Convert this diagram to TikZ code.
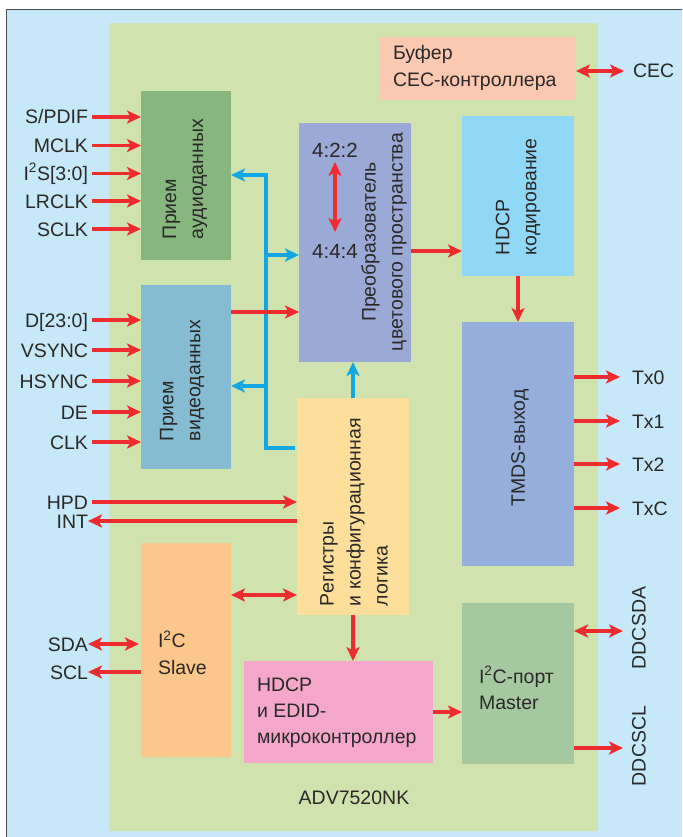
\documentclass[tikz,border=0pt]{standalone}
\usepackage{fontspec}
\setmainfont{Liberation Sans}
\usetikzlibrary{arrows.meta}
\definecolor{bgblue}{HTML}{C6E8F8}
\definecolor{chipgreen}{HTML}{D0E2AD}
\definecolor{caudio}{HTML}{87B67F}
\definecolor{cvideo}{HTML}{85BCD2}
\definecolor{cconv}{HTML}{9BA9D6}
\definecolor{chdcp}{HTML}{90D8F6}
\definecolor{ctmds}{HTML}{96AEDC}
\definecolor{cregs}{HTML}{FEDE9B}
\definecolor{cslave}{HTML}{FCC78A}
\definecolor{cedid}{HTML}{F4A7CA}
\definecolor{cmaster}{HTML}{A6C8A0}
\definecolor{ccec}{HTML}{FBC9B1}
\definecolor{ared}{HTML}{EE2B2E}
\definecolor{ablue}{HTML}{12A6E3}
\definecolor{ink}{HTML}{2A2928}
\definecolor{framegray}{HTML}{505050}
\begin{document}
\begin{tikzpicture}[x=1pt,y=-1pt,
  blk/.style={draw=none,inner sep=0pt,outer sep=0pt},
  txt/.style={inner sep=0pt,outer sep=0pt,text=ink,font=\fontsize{19.5}{27}\selectfont},
  txtb/.style={txt,font=\fontsize{19.5}{26}\selectfont},
  lab/.style={txt,text height=14pt,text depth=0pt},
  rarr/.style={draw=ared,line width=3.3pt,-{Stealth[length=14pt,width=13pt,inset=3.5pt]}},
  rdbl/.style={draw=ared,line width=3.3pt,{Stealth[length=14pt,width=13pt,inset=3.5pt]}-{Stealth[length=14pt,width=13pt,inset=3.5pt]}},
  barr/.style={draw=ablue,line width=3.2pt,-{Stealth[length=14pt,width=13pt,inset=3.5pt]}}]
\useasboundingbox (0,0) rectangle (682,837);
\fill[white] (0,0) rectangle (682,837);
\fill[bgblue] (6.5,9.5) rectangle (682,837);
\draw[framegray,line width=1.3pt] (6.5,837) -- (6.5,9.5) -- (682,9.5);
% chip area
\node[blk,fill=chipgreen,minimum width=489pt,minimum height=808pt] (chip) at (353.5,427) {};
% blocks
\node[blk,fill=ccec,minimum width=196pt,minimum height=63pt] (cec) at (478,68.5) {};
\node[blk,fill=caudio,minimum width=90pt,minimum height=169pt] (audio) at (186,175.5) {};
\node[blk,fill=cvideo,minimum width=90pt,minimum height=184pt] (video) at (186,377) {};
\node[blk,fill=cconv,minimum width=112pt,minimum height=239pt] (conv) at (355,242.5) {};
\node[blk,fill=chdcp,minimum width=112pt,minimum height=160pt] (hdcpenc) at (518,196) {};
\node[blk,fill=ctmds,minimum width=112pt,minimum height=244pt] (tmds) at (518,444) {};
\node[blk,fill=cregs,minimum width=112pt,minimum height=217pt] (regs) at (353,506.5) {};
\node[blk,fill=cslave,minimum width=90pt,minimum height=214pt] (slave) at (186,650) {};
\node[blk,fill=cedid,minimum width=189pt,minimum height=102pt] (edid) at (338.5,712) {};
\node[blk,fill=cmaster,minimum width=112pt,minimum height=161pt] (master) at (518,683.5) {};
% block texts
\node[txt,anchor=west,align=left] (tcec) at (393,67.5) {Буфер\\СЕС-контроллера};
\node[txt,rotate=90,anchor=west,align=left] (taudio) at (185,239) {Прием\\аудиоданных};
\node[txt,rotate=90,anchor=west,align=left] (tvideo) at (182,441) {Прием\\видеоданных};
\node[txt,rotate=90,align=center] (tconv) at (384,242) {Преобразователь\\цветового пространства};
\node[txt,rotate=90,anchor=west,align=left] (thdcp) at (518,255) {HDCP\\кодирование};
\node[txt,rotate=90] (ttmds) at (520,448) {TMDS-выход};
\node[txt,rotate=90,anchor=west,align=left] (tregs) at (354,606) {Регистры\\и конфигурационная\\логика};
\node[txt,anchor=west,align=left] (tslave) at (158,653) {I\textsuperscript{2}C\\Slave};
\node[txtb,anchor=west,align=left] (tedid) at (257,713) {HDCP\\и EDID-\\микроконтроллер};
\node[txtb,anchor=west,align=left] (tmaster) at (479,688) {I\textsuperscript{2}C-порт\\Master};
\node[txt] (tchip) at (354,798) {ADV7520NK};
\node[lab,font=\fontsize{20.5}{27}\selectfont] (l422) at (335,151) {4:2:2};
\node[lab,font=\fontsize{20.5}{27}\selectfont] (l444) at (335,251) {4:4:4};
% left labels
\node[lab,anchor=east] (spdif) at (88,117) {S/PDIF};
\node[lab,anchor=east] (mclk) at (88,145.5) {MCLK};
\node[lab,anchor=east] (i2s) at (88,173.5) {I\textsuperscript{2}S[3:0]};
\node[lab,anchor=east] (lrclk) at (88,201) {LRCLK};
\node[lab,anchor=east] (sclk) at (88,229) {SCLK};
\node[lab,anchor=east] (d23) at (88,320) {D[23:0]};
\node[lab,anchor=east] (vsync) at (88,350) {VSYNC};
\node[lab,anchor=east] (hsync) at (88,381) {HSYNC};
\node[lab,anchor=east] (de) at (88,412) {DE};
\node[lab,anchor=east] (clk) at (88,442) {CLK};
\node[lab,anchor=east] (hpd) at (88,502) {HPD};
\node[lab,anchor=east] (int) at (88,521) {INT};
\node[lab,anchor=east] (sda) at (88,644) {SDA};
\node[lab,anchor=east] (scl) at (88,672) {SCL};
% right labels
\node[lab,anchor=west] (ceclbl) at (633,71) {CEC};
\node[lab,anchor=west] (tx0) at (632,377) {Tx0};
\node[lab,anchor=west] (tx1) at (632,421) {Tx1};
\node[lab,anchor=west] (tx2) at (632,464) {Tx2};
\node[lab,anchor=west] (txc) at (632,508) {TxC};
\node[txt,rotate=90] (ddcsda) at (639,628) {DDCSDA};
\node[txt,rotate=90] (ddcscl) at (639,746) {DDCSCL};
% helper coordinates
\coordinate (bt) at (266,175);
\coordinate (bm) at (266,255);
\coordinate (bv) at (266,386);
\coordinate (bb) at (266,448);
\coordinate (vc) at (250,312);
\coordinate (sr) at (260,595);
\coordinate (dsda) at (623,631);
\coordinate (dscl) at (623,748);
% left inputs
\foreach \s in {spdif,mclk,i2s,lrclk,sclk}
  \draw[rarr,shorten <=4pt] (\s) -- (audio.west |- \s);
\foreach \s in {d23,vsync,hsync,de,clk}
  \draw[rarr,shorten <=4pt] (\s) -- (video.west |- \s);
\draw[rarr,shorten <=4pt] (hpd) -- (regs.west |- hpd);
\draw[rarr] (regs.west |- int) -- (int);
\draw[rdbl,shorten >=2pt] (sda) -- (slave.west |- sda);
\draw[rarr] (slave.west |- scl) -- (scl);
% blue control bus
\draw[barr,line join=miter,shorten <=2pt] (regs.west |- bb) -- (bb) -- (bt) -- (audio.east |- bt);
\draw[barr] (bm) -- (conv.west |- bm);
\draw[barr] (bv) -- (video.east |- bv);
\draw[barr] (regs.north) -- (conv.south -| regs.north);
% internal red
\draw[rarr] (video.east |- vc) -- (conv.west |- vc);
\draw[rdbl,shorten <=4pt,shorten >=12pt] (l422) -- (l444);
\draw[rarr] (conv.east |- l444) -- (hdcpenc.west |- l444);
\draw[rarr] (hdcpenc.south) -- (tmds.north);
\draw[rdbl] (slave.east |- sr) -- (regs.west |- sr);
\draw[rarr] (regs.south) -- (edid.north -| regs.south);
\draw[rarr] (edid.east) -- (master.west |- edid.east);
% outputs
\draw[rdbl,shorten >=9pt] (cec.east |- ceclbl) -- (ceclbl);
\foreach \s in {tx0,tx1,tx2,txc}
  \draw[rarr,shorten >=12pt] (tmds.east |- \s) -- (\s);
\draw[rdbl] (master.east |- dsda) -- (dsda);
\draw[rarr] (master.east |- dscl) -- (dscl);
\end{tikzpicture}
\end{document}
